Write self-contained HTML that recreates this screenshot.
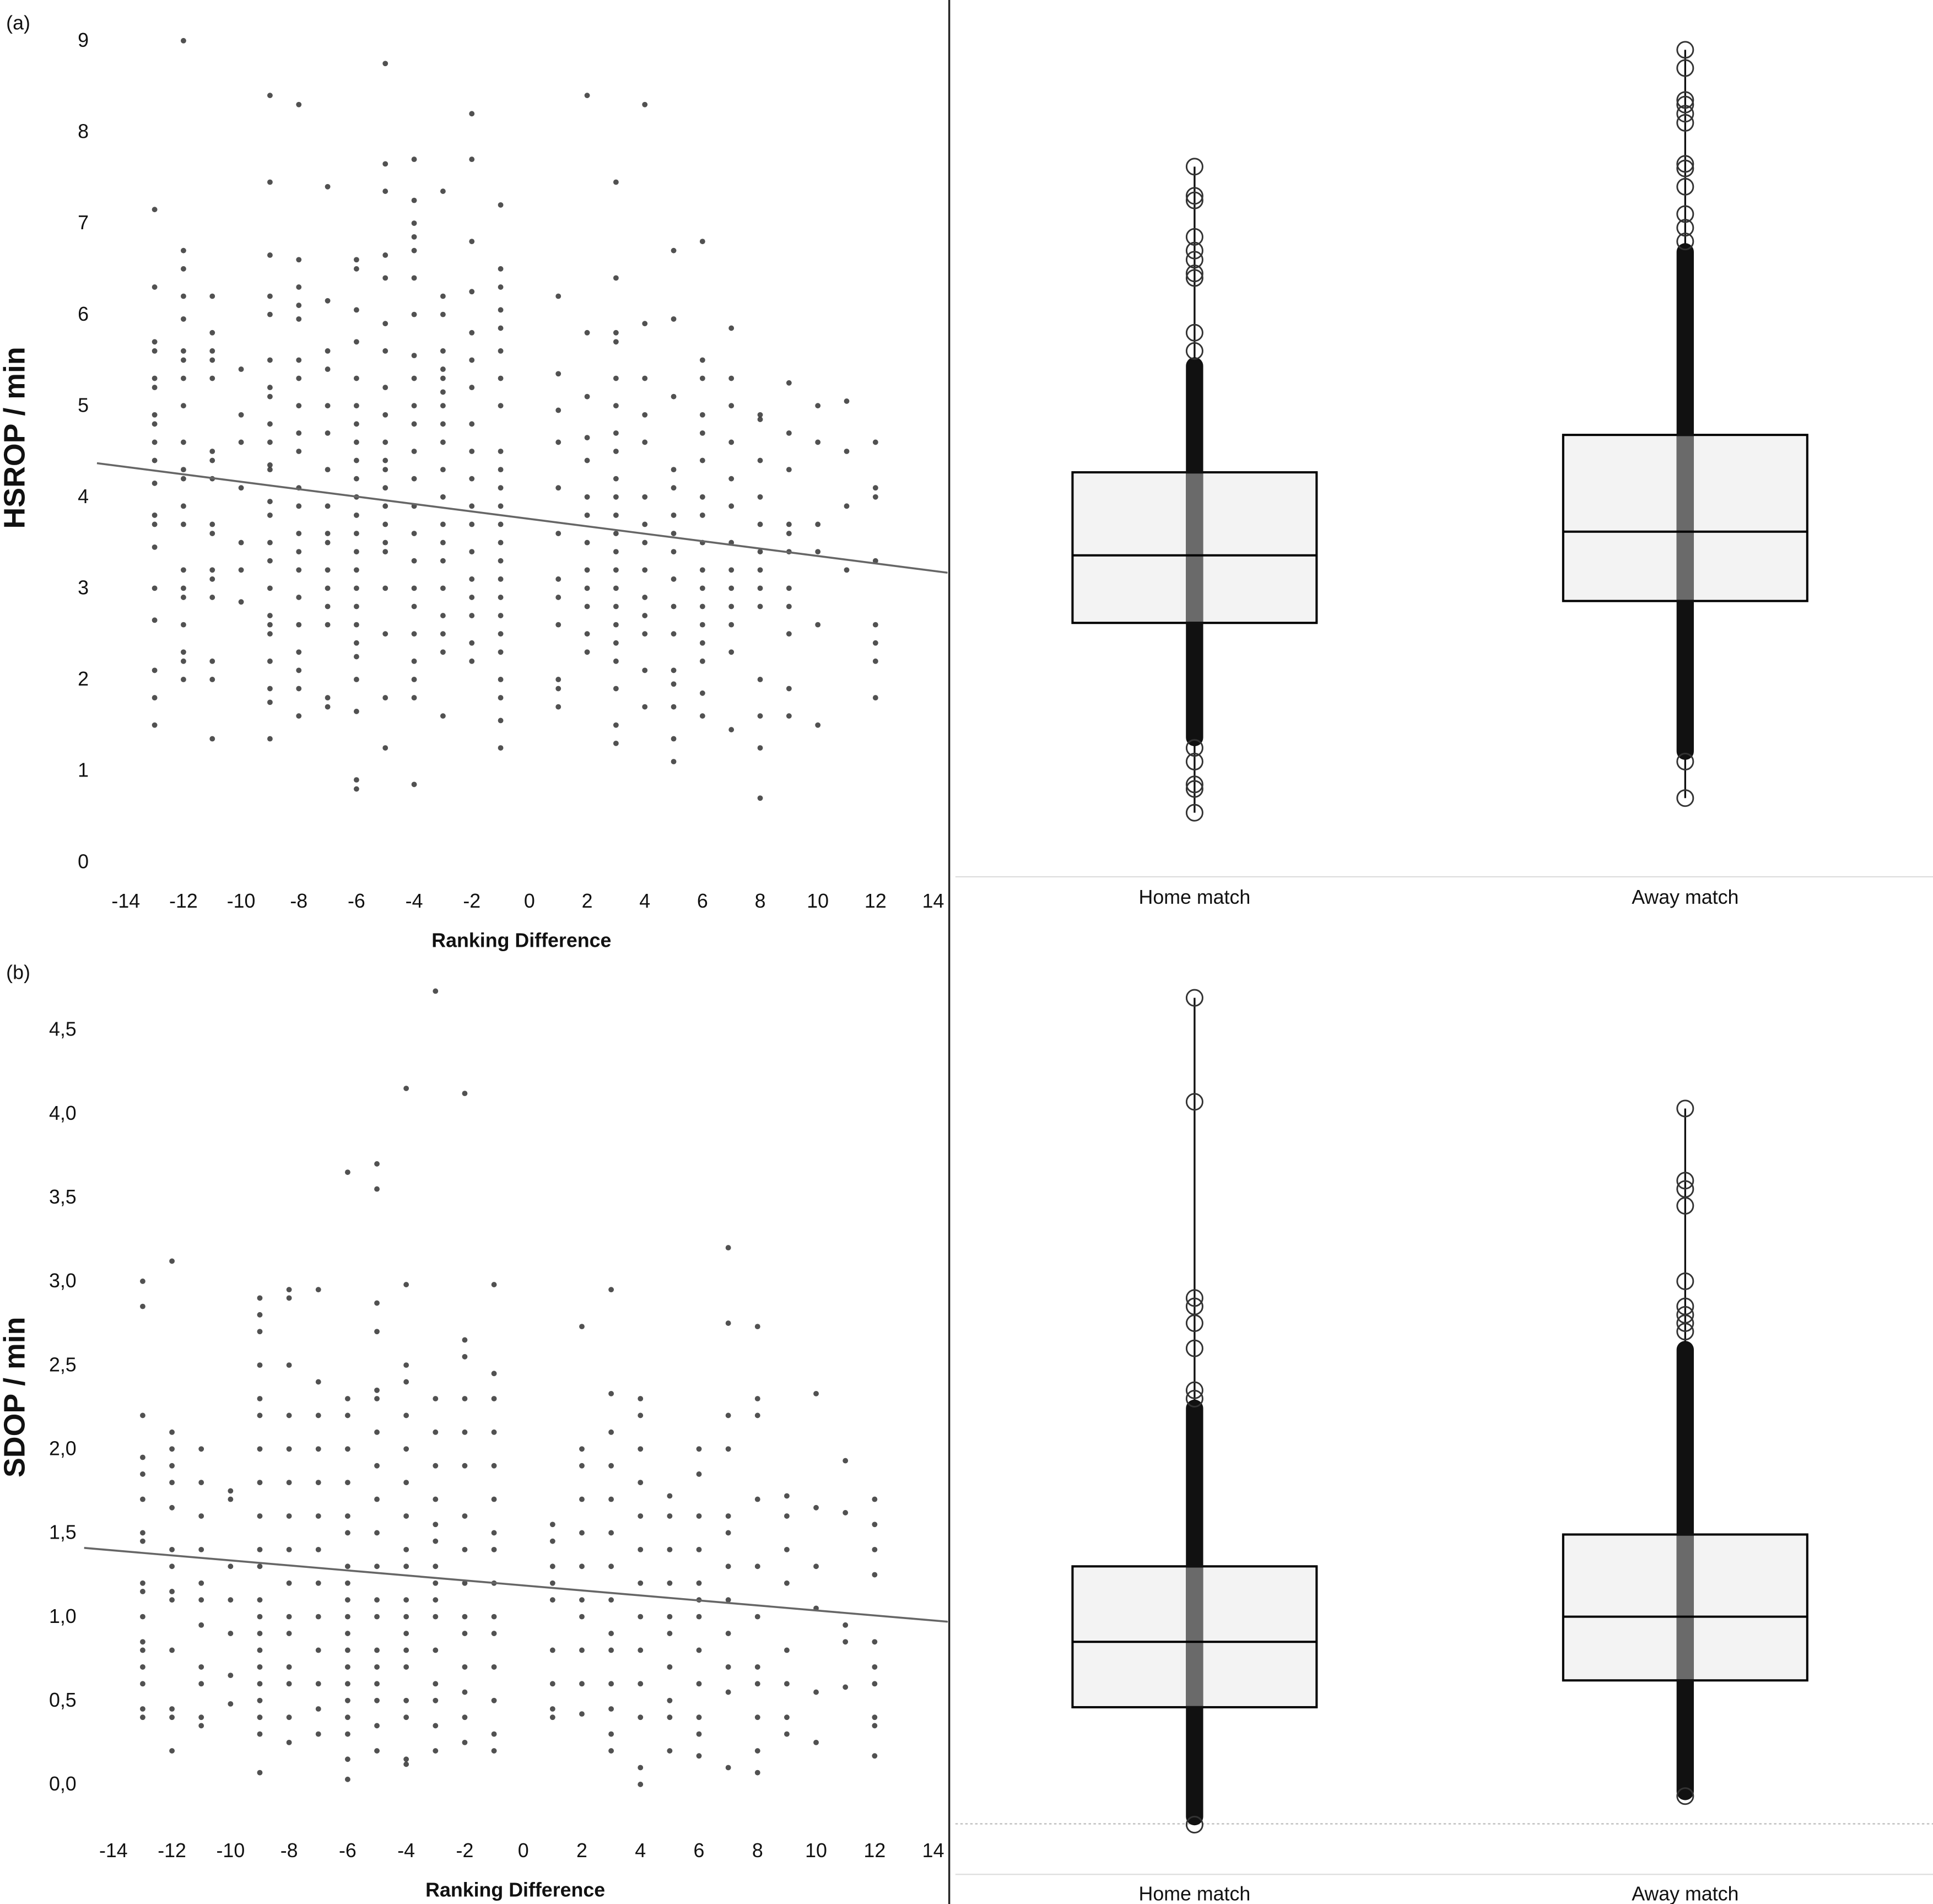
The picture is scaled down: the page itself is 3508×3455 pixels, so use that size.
<!DOCTYPE html>
<html><head><meta charset="utf-8"><style>
html,body{margin:0;padding:0;background:#fff}
svg{display:block}
text{font-family:"Liberation Sans",sans-serif;fill:#111}
</style></head><body>
<svg id="fig" xmlns="http://www.w3.org/2000/svg" width="3508" height="3455" viewBox="0 0 1568 1544" preserveAspectRatio="none">
<rect x="0" y="0" width="1568" height="1544" fill="#fff"/>
<line x1="770" y1="0" x2="770" y2="1544" stroke="#222" stroke-width="1.5"/>
<text x="5" y="24" font-size="16">(a)</text>
<text x="5" y="794" font-size="16">(b)</text>
<text transform="translate(20,355) rotate(-90)" text-anchor="middle" font-size="24" font-weight="bold" style="font-family:'Liberation Sans Narrow','Liberation Sans',sans-serif">HSROP / min</text>
<text transform="translate(20,1133) rotate(-90)" text-anchor="middle" font-size="24" font-weight="bold" style="font-family:'Liberation Sans Narrow','Liberation Sans',sans-serif">SDOP / min</text>
<text x="423" y="768" text-anchor="middle" font-size="16" font-weight="bold">Ranking Difference</text>
<text x="418" y="1538" text-anchor="middle" font-size="16" font-weight="bold">Ranking Difference</text>
<line x1="775" y1="711" x2="1568" y2="711" stroke="#ddd" stroke-width="1"/>
<line x1="775" y1="1520" x2="1568" y2="1520" stroke="#ddd" stroke-width="1"/>
<line x1="775" y1="1479" x2="1568" y2="1479" stroke="#bbb" stroke-width="1" stroke-dasharray="2,2"/>
<text x="969" y="733" text-anchor="middle" font-size="16">Home match</text>
<text x="1367" y="733" text-anchor="middle" font-size="16">Away match</text>
<text x="969" y="1541" text-anchor="middle" font-size="16">Home match</text>
<text x="1367" y="1541" text-anchor="middle" font-size="16">Away match</text>
<g id="layer"></g>
</svg>
<script>
// ---------- data ----------
const xCats = [-13,-12,-11,-10,-9,-8,-7,-6,-5,-4,-3,-2,-1,1,2,3,4,5,6,7,8,9,10,11,12];
const xTicks = [-14,-12,-10,-8,-6,-4,-2,0,2,4,6,8,10,12,14];
const yTicksA = [0,1,2,3,4,5,6,7,8,9];
const yTicksB = [0,0.5,1,1.5,2,2.5,3,3.5,4,4.5];
const hsrop = [
[7.15,6.3,5.7,5.6,5.3,5.2,4.9,4.8,4.6,4.4,4.15,3.8,3.7,3.45,3.0,2.65,2.1,1.8,1.5],
[9.0,6.7,6.5,6.2,5.95,5.6,5.5,5.3,5.0,4.6,4.3,4.2,3.9,3.7,3.2,3.0,2.9,2.6,2.3,2.2,2.0],
[6.2,5.8,5.6,5.5,5.3,4.5,4.4,4.2,3.7,3.6,3.2,3.1,2.9,2.2,2.0,1.35],
[5.4,4.9,4.6,4.1,3.5,3.2,2.85],
[8.4,7.45,6.65,6.2,6.0,5.5,5.2,5.1,4.8,4.6,4.35,4.3,3.95,3.8,3.5,3.3,3.0,2.7,2.6,2.5,2.2,1.9,1.75,1.35],
[8.3,6.6,6.3,6.1,5.95,5.5,5.3,5.0,4.7,4.5,4.1,3.9,3.6,3.4,3.2,2.9,2.6,2.3,2.1,1.9,1.6],
[7.4,6.15,5.6,5.4,5.0,4.7,4.3,3.9,3.6,3.5,3.2,3.0,2.8,2.6,1.8,1.7],
[6.6,6.5,6.05,5.7,5.3,5.0,4.8,4.6,4.4,4.2,4.0,3.8,3.6,3.4,3.2,3.0,2.8,2.6,2.4,2.25,2.0,1.65,0.9,0.8],
[8.75,7.65,7.35,6.65,6.4,5.9,5.6,5.2,4.9,4.6,4.4,4.3,4.1,3.9,3.7,3.5,3.4,3.0,2.5,1.8,1.25],
[7.7,7.25,7.0,6.85,6.7,6.4,6.0,5.55,5.3,5.0,4.8,4.5,4.2,3.9,3.6,3.3,3.0,2.8,2.5,2.2,2.0,1.8,0.85],
[7.35,6.2,6.0,5.6,5.4,5.3,5.15,5.0,4.8,4.6,4.3,4.0,3.7,3.5,3.3,3.0,2.7,2.5,2.3,1.6],
[8.2,7.7,6.8,6.25,5.8,5.5,5.2,4.8,4.5,4.2,3.9,3.7,3.4,3.1,2.9,2.7,2.4,2.2],
[7.2,6.5,6.3,6.05,5.85,5.6,5.3,5.0,4.5,4.3,4.1,3.9,3.7,3.5,3.3,3.1,2.9,2.7,2.5,2.3,2.0,1.8,1.55,1.25],
[6.2,5.35,4.95,4.6,4.1,3.6,3.1,2.9,2.6,2.0,1.9,1.7],
[8.4,5.8,5.1,4.65,4.4,4.0,3.8,3.5,3.2,3.0,2.8,2.5,2.3],
[7.45,6.4,5.8,5.7,5.3,5.0,4.7,4.5,4.2,4.0,3.8,3.6,3.4,3.2,3.0,2.8,2.6,2.4,2.2,1.9,1.5,1.3],
[8.3,5.9,5.3,4.9,4.6,4.0,3.7,3.5,3.2,2.9,2.7,2.5,2.1,1.7],
[6.7,5.95,5.1,4.3,4.1,3.8,3.6,3.4,3.1,2.8,2.5,2.1,1.95,1.7,1.35,1.1],
[6.8,5.5,5.3,4.9,4.7,4.4,4.0,3.8,3.5,3.2,3.0,2.8,2.6,2.4,2.2,1.85,1.6],
[5.85,5.3,5.0,4.6,4.2,3.9,3.5,3.2,3.0,2.8,2.6,2.3,1.45],
[4.9,4.85,4.4,4.0,3.7,3.4,3.2,3.0,2.8,2.0,1.6,1.25,0.7],
[5.25,4.7,4.3,3.7,3.6,3.4,3.0,2.8,2.5,1.9,1.6],
[5.0,4.6,3.7,3.4,2.6,1.5],
[5.05,4.5,3.9,3.2],
[4.6,4.1,4.0,3.3,2.6,2.4,2.2,1.8]
];
const sdop = [
[3.0,2.85,2.2,1.95,1.85,1.7,1.5,1.45,1.2,1.15,1.0,0.85,0.8,0.7,0.6,0.45,0.4],
[3.12,2.1,2.0,1.9,1.8,1.65,1.4,1.3,1.15,1.1,0.8,0.45,0.4,0.2],
[2.0,1.8,1.6,1.4,1.2,1.1,0.95,0.7,0.6,0.4,0.35],
[1.75,1.7,1.3,1.1,0.9,0.65,0.48],
[2.9,2.8,2.7,2.5,2.3,2.2,2.0,1.8,1.6,1.4,1.3,1.1,1.0,0.9,0.8,0.7,0.6,0.5,0.4,0.3,0.07],
[2.95,2.9,2.5,2.2,2.0,1.8,1.6,1.4,1.2,1.0,0.9,0.7,0.6,0.4,0.25],
[2.95,2.4,2.2,2.0,1.8,1.6,1.4,1.2,1.0,0.8,0.6,0.45,0.3],
[3.65,2.3,2.2,2.0,1.8,1.6,1.5,1.3,1.2,1.1,1.0,0.9,0.8,0.7,0.6,0.5,0.4,0.3,0.15,0.03],
[3.7,3.55,2.87,2.7,2.35,2.3,2.1,1.9,1.7,1.5,1.3,1.1,1.0,0.8,0.7,0.6,0.5,0.35,0.2],
[4.15,2.98,2.5,2.4,2.2,2.0,1.8,1.6,1.4,1.3,1.1,1.0,0.9,0.8,0.7,0.5,0.4,0.15,0.12],
[4.73,2.3,2.1,1.9,1.7,1.55,1.45,1.3,1.2,1.1,1.0,0.8,0.6,0.5,0.35,0.2],
[4.12,2.65,2.55,2.3,2.1,1.9,1.6,1.4,1.2,1.0,0.9,0.7,0.55,0.4,0.25],
[2.98,2.45,2.3,2.1,1.9,1.7,1.5,1.4,1.2,1.0,0.9,0.7,0.5,0.3,0.2],
[1.55,1.45,1.3,1.2,1.1,0.8,0.6,0.45,0.4],
[2.73,2.0,1.9,1.7,1.5,1.3,1.1,1.0,0.8,0.6,0.42],
[2.95,2.33,2.1,1.9,1.7,1.5,1.3,1.1,0.9,0.8,0.6,0.45,0.3,0.2],
[2.3,2.2,2.0,1.8,1.6,1.4,1.2,1.0,0.8,0.6,0.4,0.1,0.0],
[1.72,1.6,1.4,1.2,1.0,0.9,0.7,0.5,0.4,0.2],
[2.0,1.85,1.6,1.4,1.2,1.1,1.0,0.8,0.6,0.4,0.3,0.17],
[3.2,2.75,2.2,2.0,1.6,1.5,1.3,1.1,0.9,0.7,0.55,0.1],
[2.73,2.3,2.2,1.7,1.3,1.0,0.7,0.6,0.4,0.2,0.07],
[1.72,1.6,1.4,1.2,0.8,0.6,0.4,0.3],
[2.33,1.65,1.3,1.05,0.55,0.25],
[1.93,1.62,0.95,0.85,0.58],
[1.7,1.55,1.4,1.25,0.85,0.7,0.6,0.4,0.35,0.17]
];
const regA = [4.37, 3.17];
const regB = [1.41, 0.97];
const boxCats = ["Home match","Away match"];
const boxA = [[2.62,3.36,4.27],[2.86,3.62,4.68]];
const boxB = [[0.46,0.85,1.30],[0.62,1.00,1.49]];
const denseA = [[1.35,5.45],[1.2,6.7]];
const denseB = [[-0.2,2.25],[-0.05,2.6]];
const sparseA = [[7.62,7.3,7.25,6.85,6.7,6.6,6.45,6.4,5.8,5.6,1.25,1.1,0.85,0.8,0.54],[8.9,8.7,8.35,8.3,8.2,8.1,7.65,7.6,7.4,7.1,6.95,6.8,1.1,0.7]];
const sparseB = [[4.69,4.07,2.9,2.85,2.75,2.6,2.35,2.3,-0.24],[4.03,3.6,3.55,3.45,3.0,2.85,2.8,2.75,2.7,-0.07]];
// ---------- scales ----------
const xa = v => 429.5 + v*23.39, ya = v => 699 - v*74;
const xb = v => 424.5 + v*23.75, yb = v => 1447 - v*136;
const bx = i => [969,1367][i];
const NS = "http://www.w3.org/2000/svg";
const layer = document.getElementById('layer');
function mk(tag, attrs){const e=document.createElementNS(NS,tag);for(const k in attrs)e.setAttribute(k,attrs[k]);layer.appendChild(e);return e;}
xTicks.forEach(t=>{
  let e=mk('text',{x:xa(t),y:736,'text-anchor':'middle','font-size':16});e.textContent=t;
  
  
  e=mk('text',{x:xb(t),y:1506,'text-anchor':'middle','font-size':16});e.textContent=t;
  
  
});
yTicksA.forEach(t=>{
  const e=mk('text',{x:72,y:ya(t)+5,'text-anchor':'end','font-size':16});e.textContent=t;
  
  
});
yTicksB.forEach(t=>{
  const e=mk('text',{x:62,y:yb(t)+5,'text-anchor':'end','font-size':16});e.textContent=t.toFixed(1).replace('.',',');
  
  
});
xCats.forEach((c,i)=>{
  hsrop[i].forEach(v=>{
    const e=mk('circle',{cx:xa(c),cy:ya(v),r:2.2,fill:'#333','fill-opacity':0.85});
    
    
  });
  sdop[i].forEach(v=>{
    const e=mk('circle',{cx:xb(c),cy:yb(v),r:2.2,fill:'#333','fill-opacity':0.85});
    
    
  });
});
let l=mk('line',{x1:xa(-15),y1:ya(regA[0]),x2:xa(14.5),y2:ya(regA[1]),stroke:'#666','stroke-width':1.6});


l=mk('line',{x1:xb(-15),y1:yb(regB[0]),x2:xb(14.5),y2:yb(regB[1]),stroke:'#666','stroke-width':1.6});


function boxes(box,dense,sparse,y,tag){
  box.forEach((b,i)=>{
    const cx=bx(i);
    const all=sparse[i].concat(dense[i]);
    const mn=Math.min(...all), mx=Math.max(...all);
    let e=mk('line',{x1:cx,y1:y(mx),x2:cx,y2:y(mn),stroke:'#111','stroke-width':1.5});
    
    
    e=mk('rect',{x:cx-99,y:y(b[2]),width:198,height:y(b[0])-y(b[2]),fill:'#f3f3f3',stroke:'#000','stroke-width':1.8});
    
    
    e=mk('rect',{x:cx-7,y:y(dense[i][1])-6,width:14,height:y(dense[i][0])-y(dense[i][1])+12,rx:7,fill:'#111'});
    
    
    e=mk('rect',{x:cx-7,y:y(b[2])+1,width:14,height:y(b[0])-y(b[2])-2,fill:'#6a6a6a'});
    
    
    e=mk('line',{x1:cx-99,y1:y(b[1]),x2:cx+99,y2:y(b[1]),stroke:'#000','stroke-width':1.8});
    
    
    sparse[i].forEach(v=>{
      const c=mk('circle',{cx:cx,cy:y(v),r:6.5,fill:'none',stroke:'#333','stroke-width':1.3});
      
      
    });
  });
}
boxes(boxA,denseA,sparseA,ya,'a');
boxes(boxB,denseB,sparseB,yb,'b');
</script>
</body></html>
